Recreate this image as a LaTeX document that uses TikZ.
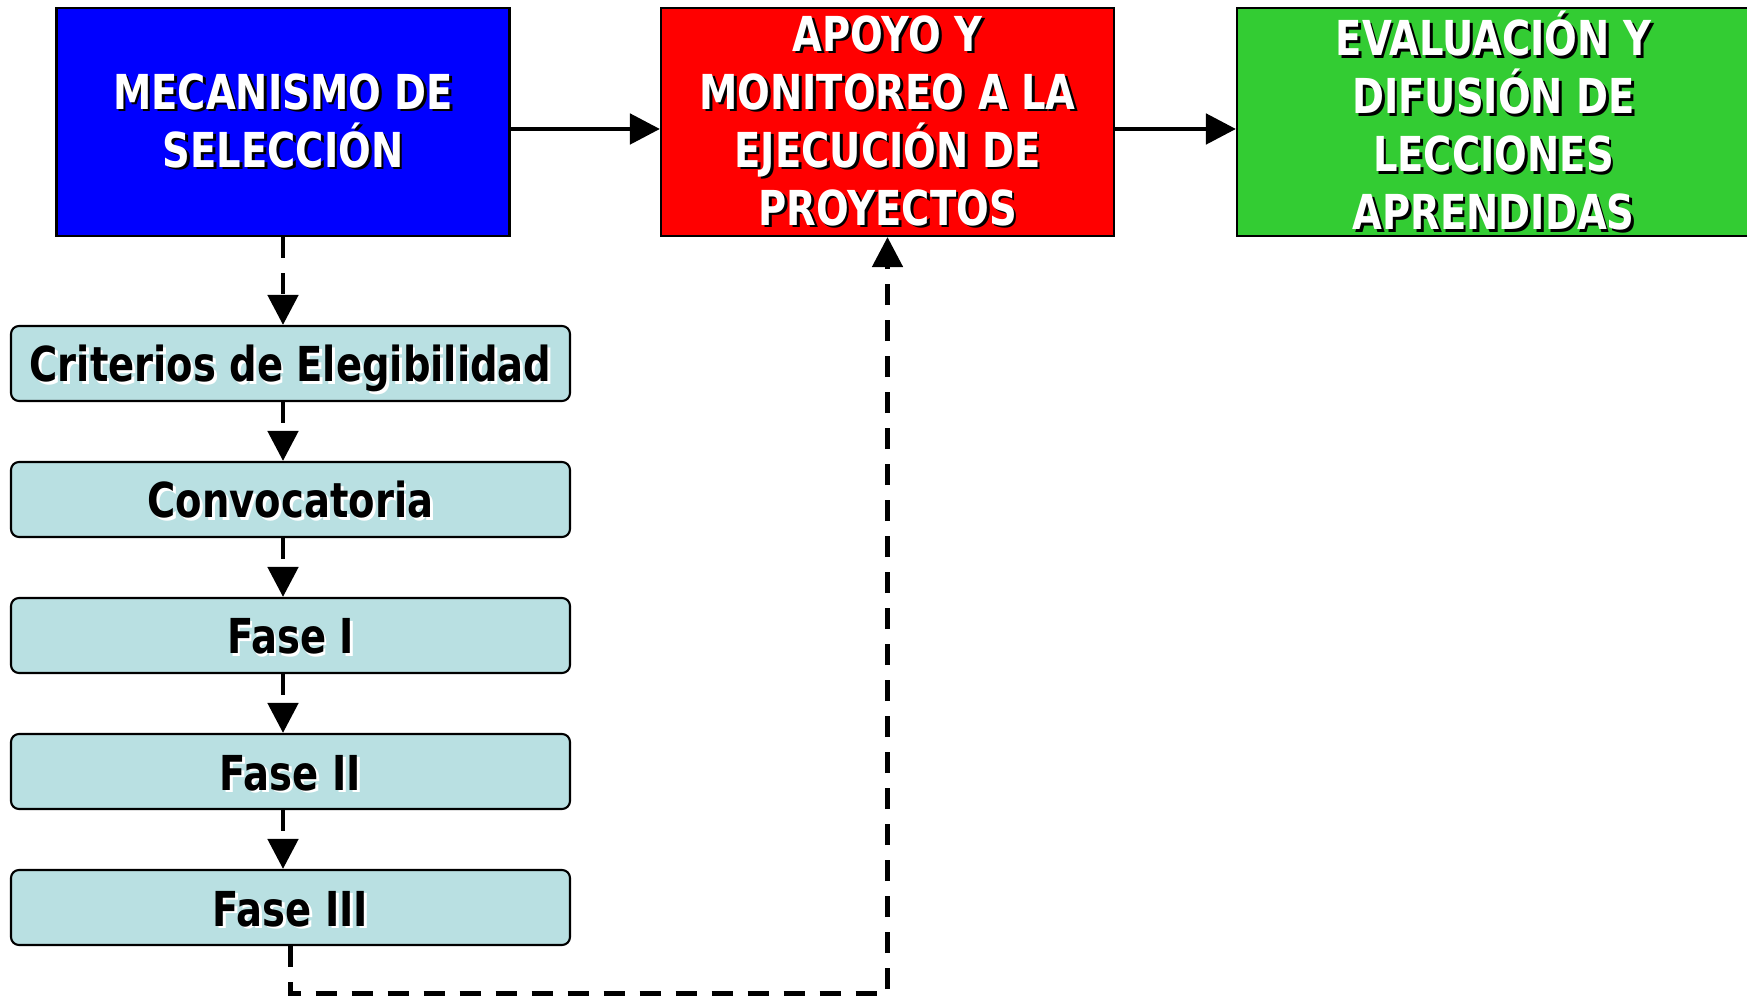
\documentclass[tikz,border=0pt]{standalone}
\usepackage{fontspec}
\setmainfont{DejaVu Sans}[FakeStretch=0.8]
\usetikzlibrary{arrows.meta}

\definecolor{selblue}{RGB}{0,0,255}
\definecolor{apored}{RGB}{255,0,0}
\definecolor{evalgreen}{RGB}{51,204,51}
\definecolor{stepcyan}{RGB}{185,224,226}

% text with a small drop shadow
\newcommand\shadowtxt[2]{\rlap{\kern0.8pt\raisebox{-0.8pt}{\color{#1}#2}}#2}

\tikzset{
  header/.style={draw=black, line width=0.6pt, minimum width=4.53cm, minimum height=2.28cm,
    inner sep=0pt, text=white, align=center, font=\bfseries\fontsize{13.7}{16.5}\selectfont},
  stepbox/.style={draw=black, fill=stepcyan, rounded corners=0.08cm, line width=0.6pt,
    minimum width=5.59cm, minimum height=0.75cm, inner sep=0pt, text height=0.37cm, text depth=0cm,
    font=\bfseries\fontsize{13.7}{16.5}\selectfont},
  flow/.style={line width=1.4pt, -{Triangle[length=0.3cm,width=0.3cm]}},
  dashflow/.style={flow, dash pattern=on 0.21cm off 0.15cm},
}

\begin{document}
\begin{tikzpicture}
	\useasboundingbox (0,0) rectangle (17.47,-9.97);
	\node[header,fill=selblue] (sel) at (2.83,-1.22)
		{\shadowtxt{black}{MECANISMO DE}\\\shadowtxt{black}{SELECCIÓN}};
	\node[header,fill=apored] (apoyo) at (8.875,-1.22)
		{\shadowtxt{black}{APOYO Y}\\\shadowtxt{black}{MONITOREO A LA}\\\shadowtxt{black}{EJECUCIÓN DE}\\\shadowtxt{black}{PROYECTOS}};
	\node[header,fill=evalgreen,minimum width=5.13cm] (eval) at (14.935,-1.22)
		{\shadowtxt{black}{EVALUACIÓN Y}\\\shadowtxt{black}{DIFUSIÓN DE}\\\shadowtxt{black}{LECCIONES}\\\shadowtxt{black}{APRENDIDAS}};

	\node[stepbox] (crit) at (2.905,-3.635) {\shadowtxt{white}{Criterios de Elegibilidad}};
	\node[stepbox] (conv) at (2.905,-4.995) {\shadowtxt{white}{Convocatoria}};
	\node[stepbox] (f1) at (2.905,-6.355) {\shadowtxt{white}{Fase I}};
	\node[stepbox] (f2) at (2.905,-7.715) {\shadowtxt{white}{Fase II}};
	\node[stepbox] (f3) at (2.905,-9.075) {\shadowtxt{white}{Fase III}};

	\draw[flow] ([yshift=-0.07cm]sel.east) -- ([yshift=-0.07cm]apoyo.west);
	\draw[flow] ([yshift=-0.07cm]apoyo.east) -- ([yshift=-0.07cm]eval.west);

	\draw[dashflow] (sel.south) -- (sel.south |- crit.north);
	\foreach \a/\b in {crit/conv,conv/f1,f1/f2,f2/f3}
		\draw[dashflow] (\a.south -| sel.south) -- (\b.north -| sel.south);

	\draw[dashflow] (f3.south) -- ++(0,-0.47) -| (apoyo.south);
\end{tikzpicture}
\end{document}
